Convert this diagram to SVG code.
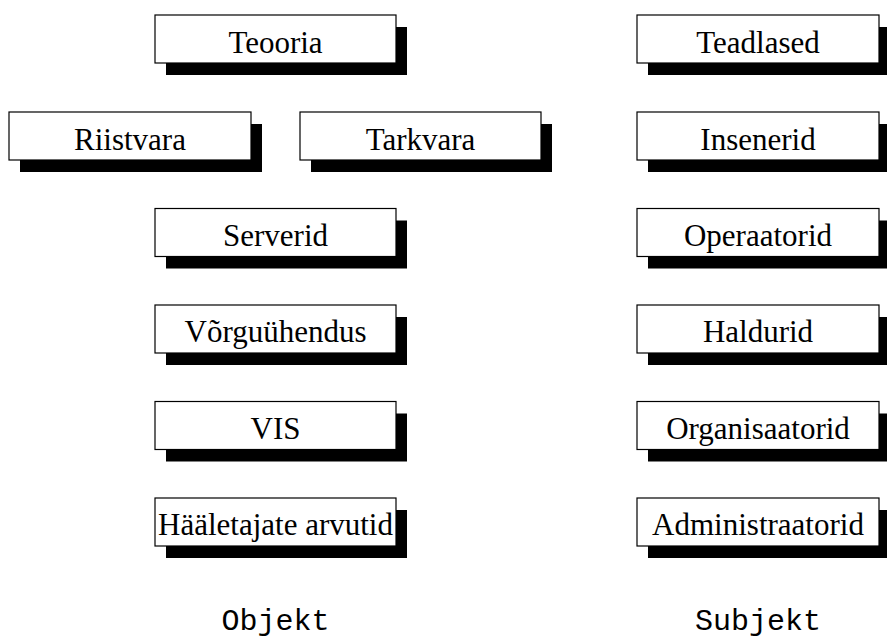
<svg xmlns="http://www.w3.org/2000/svg" width="887" height="639" viewBox="0 0 887 639">
<defs>
<style>
.sh{fill:#000}
.bx{fill:#fff;stroke:#000;stroke-width:1.2}
.t{font-family:"Liberation Serif","Times New Roman",serif;font-size:31px;text-anchor:middle;fill:#000}
.m{font-family:"Liberation Mono","Courier New",monospace;font-size:30px;text-anchor:middle;fill:#000}
</style>
</defs>
<rect width="887" height="639" fill="#fff"/>
<g id="connectors"></g>
<g id="teooria"><rect class="sh" x="166" y="27" width="241" height="48"/><rect class="bx" x="155" y="15" width="241" height="48"/><text class="t" x="275.5" y="52.5">Teooria</text></g>
<g id="riistvara"><rect class="sh" x="20" y="124" width="242" height="48"/><rect class="bx" x="9" y="112" width="242" height="48"/><text class="t" x="130" y="149.5">Riistvara</text></g>
<g id="tarkvara"><rect class="sh" x="311" y="124" width="241" height="48"/><rect class="bx" x="300" y="112" width="241" height="48"/><text class="t" x="420.5" y="149.5">Tarkvara</text></g>
<g id="serverid"><rect class="sh" x="166" y="220.5" width="241" height="48"/><rect class="bx" x="155" y="208.5" width="241" height="48"/><text class="t" x="275.5" y="245.5">Serverid</text></g>
<g id="vorguuhendus"><rect class="sh" x="166" y="317" width="241" height="48"/><rect class="bx" x="155" y="305" width="241" height="48"/><text class="t" x="275.5" y="342">Võrguühendus</text></g>
<g id="vis"><rect class="sh" x="166" y="413.5" width="241" height="48"/><rect class="bx" x="155" y="401.5" width="241" height="48"/><text class="t" x="275.5" y="438.5">VIS</text></g>
<g id="haaletajate"><rect class="sh" x="166" y="510" width="241" height="48"/><rect class="bx" x="155" y="498" width="241" height="48"/><text class="t" x="275.5" y="535">Hääletajate arvutid</text></g>
<g id="teadlased"><rect class="sh" x="648" y="27" width="242" height="48"/><rect class="bx" x="637" y="15" width="242" height="48"/><text class="t" x="758" y="52.5">Teadlased</text></g>
<g id="insenerid"><rect class="sh" x="648" y="124" width="242" height="48"/><rect class="bx" x="637" y="112" width="242" height="48"/><text class="t" x="758" y="149.5">Insenerid</text></g>
<g id="operaatorid"><rect class="sh" x="648" y="220.5" width="242" height="48"/><rect class="bx" x="637" y="208.5" width="242" height="48"/><text class="t" x="758" y="245.5">Operaatorid</text></g>
<g id="haldurid"><rect class="sh" x="648" y="317" width="242" height="48"/><rect class="bx" x="637" y="305" width="242" height="48"/><text class="t" x="758" y="342">Haldurid</text></g>
<g id="organisaatorid"><rect class="sh" x="648" y="413.5" width="242" height="48"/><rect class="bx" x="637" y="401.5" width="242" height="48"/><text class="t" x="758" y="438.5">Organisaatorid</text></g>
<g id="administraatorid"><rect class="sh" x="648" y="510" width="242" height="48"/><rect class="bx" x="637" y="498" width="242" height="48"/><text class="t" x="758" y="535">Administraatorid</text></g>
<g id="labels"><text class="m" x="275.5" y="630">Objekt</text><text class="m" x="758" y="630">Subjekt</text></g>
</svg>
